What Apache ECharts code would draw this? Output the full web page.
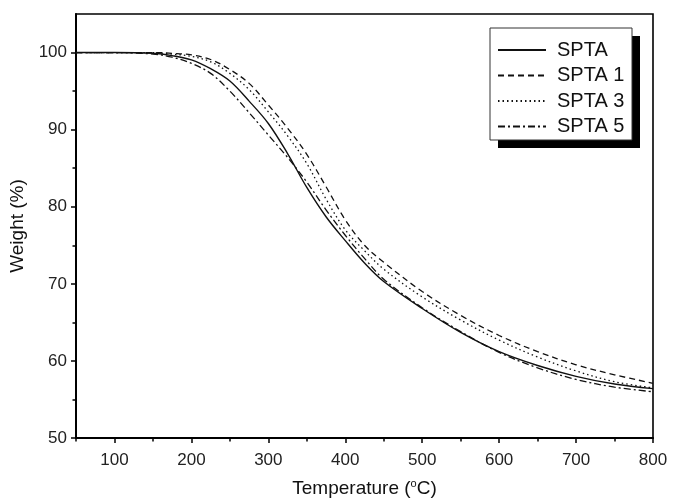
<!DOCTYPE html>
<html>
<head>
<meta charset="utf-8">
<script src="https://cdn.jsdelivr.net/npm/echarts@6/dist/echarts.min.js"></script>
<style>
  html, body { margin: 0; padding: 0; background: #fff; }
  #chart { width: 673px; height: 500px; }
</style>
</head>
<body>
<div id="chart"></div>
<script>
// temperature (°C) sample points
const temps = [50, 100, 150, 175, 200, 225, 250, 275, 300, 325, 350, 375, 400, 425, 450, 500, 550, 600, 650, 700, 750, 800];

// weight (%) for each sample
const spta  = [100, 100, 99.9, 99.6, 99.05, 97.9, 96.3, 93.7, 90.8, 86.9, 82.5, 78.7, 75.6, 72.7, 70.3, 66.8, 63.7, 61.2, 59.4, 58.0, 57.0, 56.4];
const spta1 = [100, 100, 100, 99.9, 99.7, 99.1, 97.8, 96.0, 93.2, 90.2, 86.8, 82.6, 78.3, 75.0, 72.8, 69.0, 65.9, 63.3, 61.2, 59.5, 58.2, 57.1];
const spta3 = [100, 100, 100, 99.8, 99.5, 98.8, 97.3, 95.2, 92.3, 89.2, 85.6, 81.0, 77.0, 74.3, 71.9, 68.3, 65.3, 62.7, 60.5, 58.7, 57.3, 56.5];
const spta5 = [100, 100, 99.8, 99.4, 98.6, 97.3, 95.0, 92.2, 89.3, 86.4, 83.2, 79.6, 76.3, 73.3, 70.6, 66.9, 63.8, 61.1, 59.1, 57.6, 56.6, 56.0];

const seriesNames = ['SPTA', 'SPTA 1', 'SPTA 3', 'SPTA 5'];

// tick labels
const xTicks = [100, 200, 300, 400, 500, 600, 700, 800];
const xMinor = [50, 150, 250, 350, 450, 550, 650, 750];
const yTicks = [50, 60, 70, 80, 90, 100];
const yMinor = [55, 65, 75, 85, 95];

const chart = echarts.init(document.getElementById('chart'));

const font = 'Liberation Sans, Arial, sans-serif';
const dashes = ['solid', [6, 4], [1.5, 3], [7, 3, 2, 3]];

function pairs(vals) {
  return temps.map((t, i) => [t, vals[i]]);
}

const allValues = [spta, spta1, spta3, spta5];

const option = {
  backgroundColor: '#fff',
  animation: false,
  grid: {
    left: 76, right: 20, top: 14, bottom: 62,
    outerBoundsMode: 'none',
    show: true,
    borderColor: '#000',
    borderWidth: 1.6
  },
  // legend frame with its offset drop shadow
  graphic: [
    { type: 'rect', z: 10, shape: { x: 498, y: 36, width: 142, height: 112 }, style: { fill: '#000' } },
    { type: 'rect', z: 11, shape: { x: 490, y: 28, width: 142, height: 112 }, style: { fill: '#fff', stroke: '#333', lineWidth: 1 } }
  ],
  legend: {
    show: true,
    z: 20,
    orient: 'vertical',
    left: 490,
    top: 28,
    padding: [12, 3, 9, 7],
    itemWidth: 48,
    itemHeight: 14,
    itemGap: 5.5,
    itemStyle: { opacity: 0 },
    textStyle: {
      fontFamily: font,
      fontSize: 20,
      lineHeight: 19,
      color: '#111',
      padding: [0, 0, 0, 6]
    },
    data: seriesNames
  },
  xAxis: [
    {
      type: 'value',
      min: 50,
      max: 800,
      position: 'bottom',
      name: 'Temperature ({sup|o}C)',
      nameLocation: 'middle',
      nameGap: 40,
      nameTextStyle: {
        fontFamily: font,
        fontSize: 19,
        color: '#111',
        rich: {
          sup: { fontFamily: font, fontSize: 11, verticalAlign: 'top', padding: [0, 0, 10, 0], color: '#111' }
        }
      },
      axisLine: { show: true, lineStyle: { color: '#000', width: 2 } },
      axisTick: { show: true, customValues: xTicks, length: 5, lineStyle: { color: '#000', width: 1.5 } },
      axisLabel: { customValues: xTicks, margin: 14, fontFamily: font, fontSize: 17, color: '#222' },
      splitLine: { show: false }
    },
    {
      type: 'value',
      min: 50,
      max: 800,
      position: 'bottom',
      axisLine: { show: false },
      axisTick: { show: true, customValues: xMinor, length: 3.5, lineStyle: { color: '#000', width: 1.5 } },
      axisLabel: { show: false },
      splitLine: { show: false }
    }
  ],
  yAxis: [
    {
      type: 'value',
      min: 50,
      max: 105,
      position: 'left',
      name: 'Weight (%)',
      nameLocation: 'middle',
      nameGap: 42,
      nameTextStyle: { fontFamily: font, fontSize: 19, color: '#111' },
      axisLine: { show: true, lineStyle: { color: '#000', width: 2 } },
      axisTick: { show: true, customValues: yTicks, length: 5, lineStyle: { color: '#000', width: 1.5 } },
      axisLabel: { customValues: yTicks, margin: 9, fontFamily: font, fontSize: 17, color: '#222' },
      splitLine: { show: false }
    },
    {
      type: 'value',
      min: 50,
      max: 105,
      position: 'left',
      axisLine: { show: false },
      axisTick: { show: true, customValues: yMinor, length: 3.5, lineStyle: { color: '#000', width: 1.5 } },
      axisLabel: { show: false },
      splitLine: { show: false }
    }
  ],
  series: seriesNames.map((name, i) => ({
    name: name,
    type: 'line',
    xAxisIndex: 0,
    yAxisIndex: 0,
    smooth: 0.35,
    symbol: 'none',
    data: pairs(allValues[i]),
    lineStyle: { color: '#111', width: i === 0 ? 1.4 : 1.3, type: dashes[i] },
    itemStyle: { color: '#111' }
  }))
};

chart.setOption(option);
</script>
</body>
</html>
